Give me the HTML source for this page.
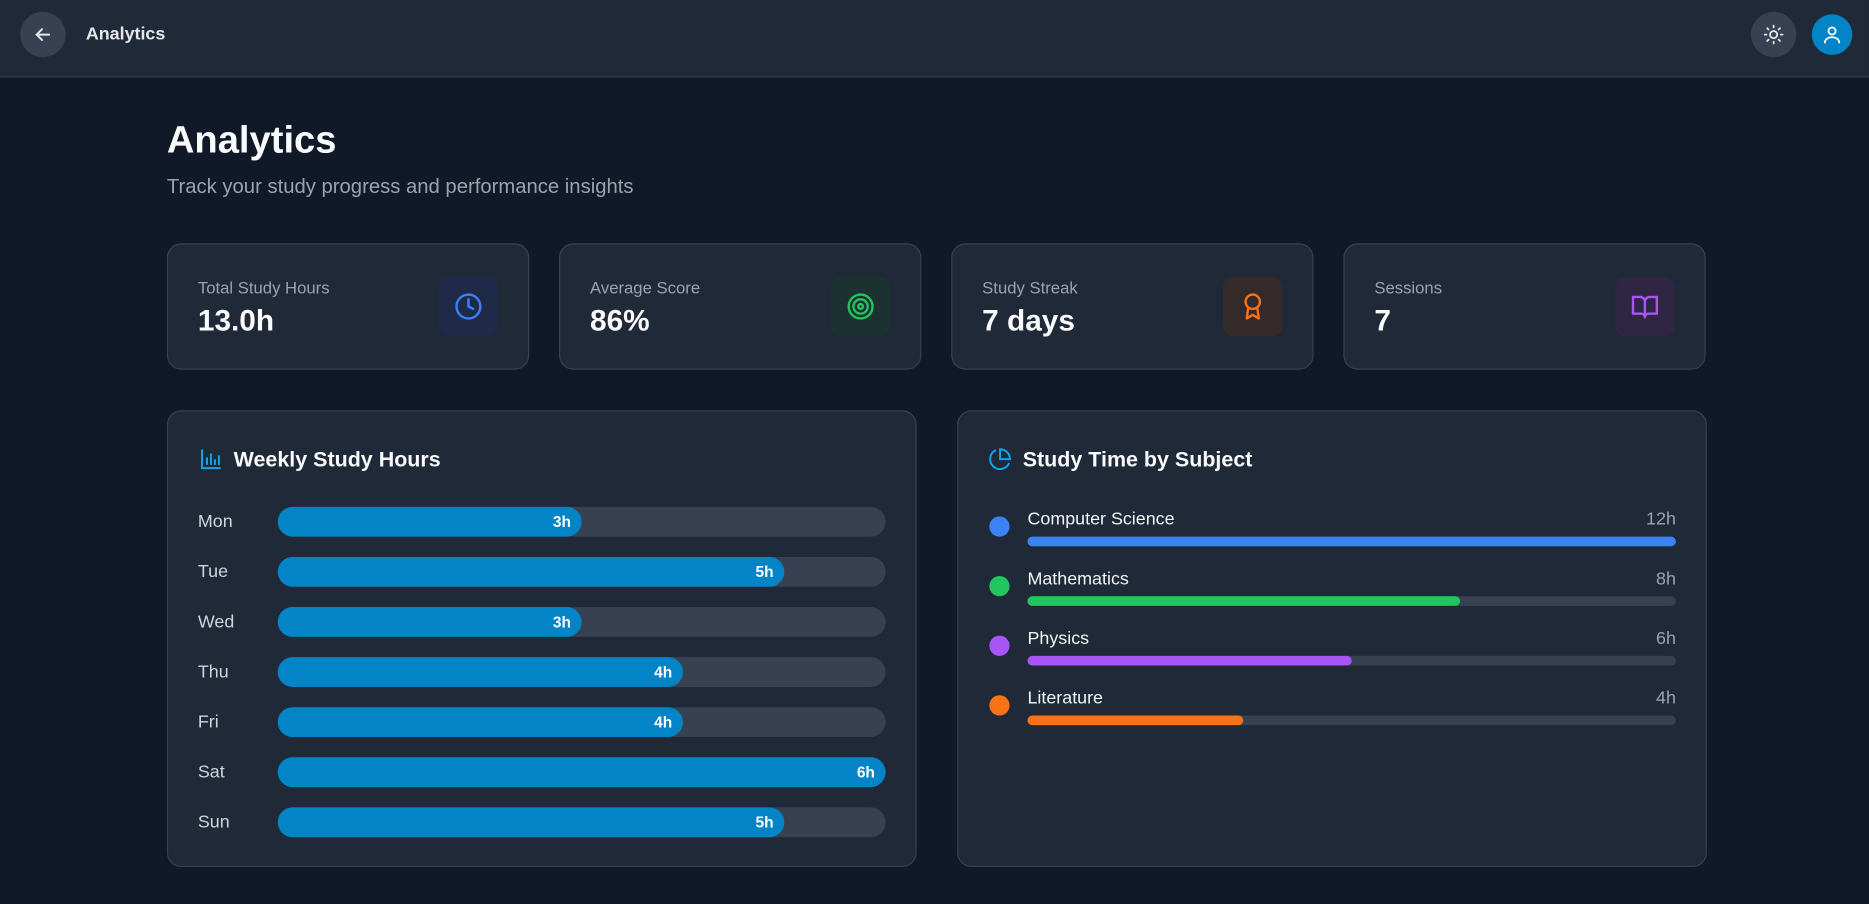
<!DOCTYPE html>
<html><head><meta charset="utf-8"><style>
*{box-sizing:border-box;margin:0;padding:0}
html,body{width:1869px;height:904px;overflow:hidden;background:#111827}
#root{position:absolute;left:0;top:0;width:1568px;height:758px;transform:scale(1.19196,1.1926);transform-origin:0 0;font-family:"Liberation Sans",sans-serif;color:#f9fafb}
.abs{position:absolute}
.header{left:0;top:0;width:1568px;height:65px;background:#1f2937;border-bottom:1px solid #374151}
.circ{border-radius:50%;display:flex;align-items:center;justify-content:center}
.card{background:#1f2937;border:1px solid #374151;border-radius:12px}
.lbl{font-size:14px;color:#9ca3af}
.val{font-size:25px;font-weight:bold}
.ibox{width:50px;height:50px;border-radius:9px;display:flex;align-items:center;justify-content:center}
.ctitle{font-size:18px;font-weight:bold}
</style></head><body>
<div id="root">
<div class="abs header">
 <div class="abs circ" style="left:17px;top:10px;width:38px;height:38px;background:#374151">
  <svg width="18" height="18" viewBox="0 0 24 24" fill="none" stroke="#e5e7eb" stroke-width="2.2" stroke-linecap="round"><path d="M19 12H5M11 6l-6 6 6 6"/></svg></div>
 <div class="abs" style="left:72px;top:20px;font-size:15px;font-weight:bold;color:#e5e7eb">Analytics</div>
 <div class="abs circ" style="left:1469px;top:10px;width:38px;height:38px;background:#374151">
  <svg width="18" height="18" viewBox="0 0 24 24" fill="none" stroke="#e5e7eb" stroke-width="2" stroke-linecap="round"><circle cx="12" cy="12" r="4"/><path d="M12 2v2M12 20v2M2 12h2M20 12h2M4.9 4.9l1.4 1.4M17.7 17.7l1.4 1.4M4.9 19.1l1.4-1.4M17.7 6.3l1.4-1.4"/></svg></div>
 <div class="abs circ" style="left:1520px;top:12px;width:34px;height:34px;background:#0284c7">
  <svg width="18" height="18" viewBox="0 0 24 24" fill="none" stroke="#fff" stroke-width="2" stroke-linecap="round"><circle cx="12" cy="8" r="4"/><path d="M4 21c0-4 4-6 8-6s8 2 8 6"/></svg></div>
</div>
<div class="abs" style="left:140px;top:99px;font-size:32px;font-weight:bold">Analytics</div>
<div class="abs" style="left:140px;top:147px;font-size:17px;color:#9ca3af">Track your study progress and performance insights</div>

<div class="abs card" style="left:140px;top:204px;width:304px;height:106px">
 <div class="abs lbl" style="left:25px;top:28px">Total Study Hours</div><div class="abs val" style="left:25px;top:50px">13.0h</div>
 <div class="abs ibox" style="left:227px;top:27px;background:#1e2a47"><svg width="24" height="24" viewBox="0 0 24 24" fill="none" stroke="#3b82f6" stroke-width="2" stroke-linecap="round"><circle cx="12" cy="12" r="10"/><path d="M12 6v6l4 2"/></svg></div></div>
<div class="abs card" style="left:469px;top:204px;width:304px;height:106px">
 <div class="abs lbl" style="left:25px;top:28px">Average Score</div><div class="abs val" style="left:25px;top:50px">86%</div>
 <div class="abs ibox" style="left:227px;top:27px;background:#1c3230"><svg width="24" height="24" viewBox="0 0 24 24" fill="none" stroke="#22c55e" stroke-width="2"><circle cx="12" cy="12" r="10"/><circle cx="12" cy="12" r="6"/><circle cx="12" cy="12" r="2"/></svg></div></div>
<div class="abs card" style="left:798px;top:204px;width:304px;height:106px">
 <div class="abs lbl" style="left:25px;top:28px">Study Streak</div><div class="abs val" style="left:25px;top:50px">7 days</div>
 <div class="abs ibox" style="left:227px;top:27px;background:#352a2a"><svg width="24" height="24" viewBox="0 0 24 24" fill="none" stroke="#f97316" stroke-width="2" stroke-linejoin="round"><circle cx="12" cy="8" r="6"/><path d="M8.2 13L7 22l5-3 5 3-1.2-9"/></svg></div></div>
<div class="abs card" style="left:1127px;top:204px;width:304px;height:106px">
 <div class="abs lbl" style="left:25px;top:28px">Sessions</div><div class="abs val" style="left:25px;top:50px">7</div>
 <div class="abs ibox" style="left:227px;top:27px;background:#2e2642"><svg width="24" height="24" viewBox="0 0 24 24" fill="none" stroke="#a855f7" stroke-width="2" stroke-linejoin="round"><path d="M2 4h6a4 4 0 0 1 4 4v13a3 3 0 0 0-3-3H2zM22 4h-6a4 4 0 0 0-4 4v13a3 3 0 0 1 3-3h7z"/></svg></div></div>

<div class="abs card" id="weekly" style="left:140px;top:344px;width:629px;height:383px">
 <svg class="abs" style="left:26px;top:30px" width="20" height="20" viewBox="0 0 24 24" fill="none" stroke="#0ea5e9" stroke-width="2" stroke-linecap="round"><path d="M3 3v18h18M8 17V11M12 17V7M16 17v-4M20 17V9"/></svg>
 <div class="abs ctitle" style="left:55px;top:30px">Weekly Study Hours</div>
</div>
<div class="abs card" id="subjects" style="left:803px;top:344px;width:629px;height:383px">
 <svg class="abs" style="left:25px;top:30px" width="20" height="20" viewBox="0 0 24 24" fill="none" stroke="#0ea5e9" stroke-width="2"><path d="M21.2 15.9A10 10 0 1 1 8 2.8"/><path d="M22 12A10 10 0 0 0 12 2v10z"/></svg>
 <div class="abs ctitle" style="left:54px;top:30px">Study Time by Subject</div>
</div>
</div>
<script>
const days=["Mon","Tue","Wed","Thu","Fri","Sat","Sun"];
const hours=[3,5,3,4,4,6,5];
const subjects=["Computer Science","Mathematics","Physics","Literature"];
const subjectHours=[12,8,6,4];
const subjectColors=["#3b82f6","#22c55e","#a855f7","#f97316"];

const wk=document.getElementById('weekly');
const maxH=Math.max(...hours);
const trackW=510;
function xw(v){return v/maxH*trackW;}
days.forEach((d,i)=>{
 const cy=93+i*42;
 const l=document.createElement('div');l.className='abs';
 l.style.cssText=`left:25px;top:${cy-9}px;font-size:15px;color:#d1d5db`;l.textContent=d;
 
 
 wk.appendChild(l);
 const t=document.createElement('div');t.className='abs';
 t.style.cssText=`left:92px;top:${cy-13}px;width:${trackW}px;height:25px;border-radius:13px;background:#374151`;
 
 
 wk.appendChild(t);
 const b=document.createElement('div');b.className='abs';
 b.style.cssText=`left:0;top:0;width:${xw(hours[i])}px;height:25px;border-radius:13px;background:#0284c7;color:#fff;font-size:13px;font-weight:bold;text-align:right;padding-right:9px;line-height:25px`;
 b.textContent=hours[i]+'h';
 
 
 t.appendChild(b);
});
const sb=document.getElementById('subjects');
const maxS=Math.max(...subjectHours);
const sW=544;
function sx(v){return v/maxS*sW;}
subjects.forEach((s,i)=>{
 const y0=i*50;
 const dot=document.createElement('div');dot.className='abs';
 dot.style.cssText=`left:26px;top:${88+y0}px;width:17px;height:17px;border-radius:50%;background:${subjectColors[i]}`;
 
 
 sb.appendChild(dot);
 const n=document.createElement('div');n.className='abs';
 n.style.cssText=`left:58px;top:${82+y0}px;font-size:15px;color:#f3f4f6`;n.textContent=s;
 
 
 sb.appendChild(n);
 const v=document.createElement('div');v.className='abs';
 v.style.cssText=`right:25px;top:${82+y0}px;font-size:15px;color:#9ca3af`;v.textContent=subjectHours[i]+'h';
 
 
 sb.appendChild(v);
 const t=document.createElement('div');t.className='abs';
 t.style.cssText=`left:58px;top:${105+y0}px;width:${sW}px;height:8px;border-radius:4px;background:#374151`;
 
 
 sb.appendChild(t);
 const b=document.createElement('div');b.className='abs';
 b.style.cssText=`left:0;top:0;width:${sx(subjectHours[i])}px;height:8px;border-radius:4px;background:${subjectColors[i]}`;
 
 
 t.appendChild(b);
});
</script>
</body></html>
